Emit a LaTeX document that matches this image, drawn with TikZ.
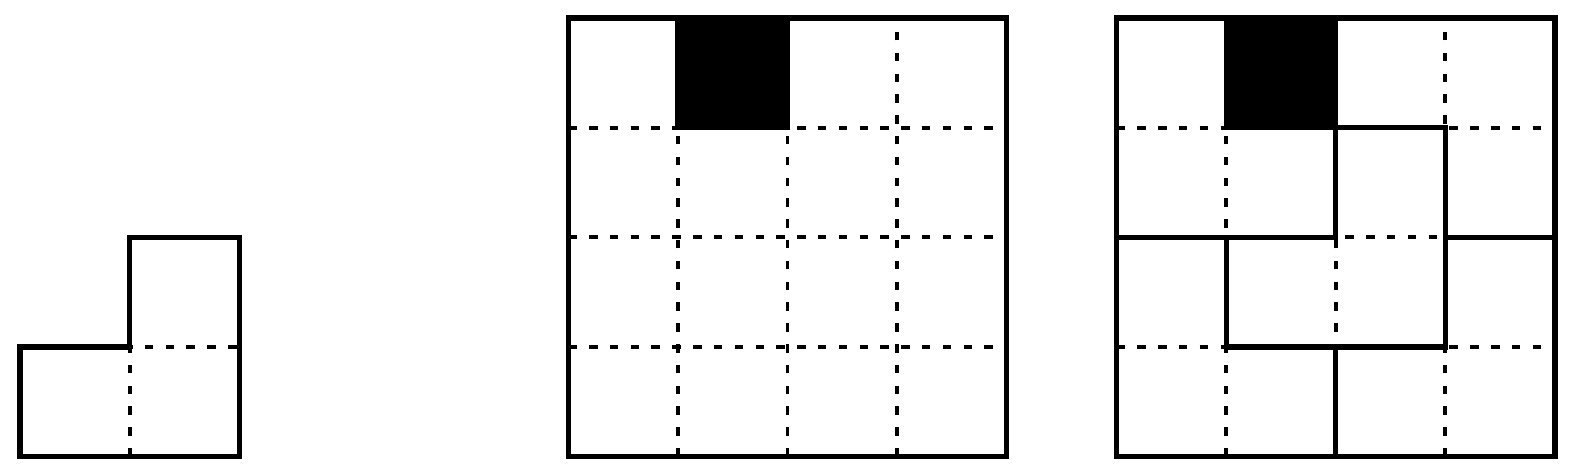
\documentclass[tikz,border=0pt]{standalone}
\begin{document}
\begin{tikzpicture}[x=1cm, y=1cm,
  rand/.style={line width=1.35pt},
  gitter/.style={line width=1pt, dash pattern=on 2.2pt off 3.2pt}]
\useasboundingbox (-0.1825,-0.173) rectangle (14.164,4.164);
% L-Tromino
\draw[gitter] (1,0) -- (1,1) -- (2,1);
\draw[rand] (0,0) -- (2,0) -- (2,2) -- (1,2) -- (1,1) -- (0,1) -- cycle;
% Brett mit fehlendem Feld
\foreach \i in {1,2,3} {
  \draw[gitter] (5+\i,0) -- (5+\i,4);
  \draw[gitter] (5,\i) -- (9,\i);
}
\filldraw[rand] (6,3) rectangle (7,4);
\draw[rand] (5,0) rectangle (9,4);
% Zerlegung in Trominos
\foreach \i in {1,2,3} {
  \draw[gitter] (10+\i,0) -- (10+\i,4);
  \draw[gitter] (10,\i) -- (14,\i);
}
\filldraw[rand] (11,3) rectangle (12,4);
\draw[rand] (10,0) rectangle (14,4);
\draw[rand] (10,2) -- (12,2) -- (12,3) -- (13,3) -- (13,1) -- (11,1) -- (11,2);
\draw[rand] (13,2) -- (14,2);
\draw[rand] (12,0) -- (12,1);
\end{tikzpicture}
\end{document}
